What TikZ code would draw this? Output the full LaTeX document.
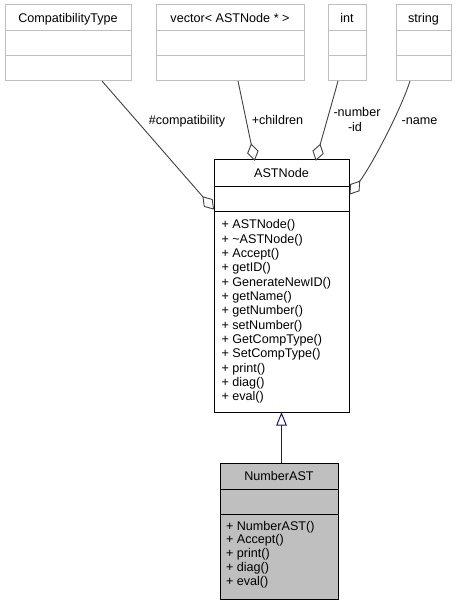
\documentclass[tikz,border=0pt]{standalone}
\usepackage{fontspec}
\setmainfont{Liberation Sans}
\usetikzlibrary{arrows.meta,calc}
\definecolor{boxgray}{HTML}{BFBFBF}
\definecolor{edgegray}{HTML}{404040}
\definecolor{inhblue}{HTML}{191970}
\begin{document}
\begin{tikzpicture}[x=1pt,y=-1pt,
  every node/.style={inner sep=0pt,outer sep=0pt,font=\fontsize{12.6}{14}\selectfont},
  lbox/.style={draw=boxgray,line width=1pt,anchor=north west},
  cbox/.style={draw=black,line width=1pt,anchor=north west},
  sepl/.style={line width=1pt},
  ttl/.style={anchor=base},
  mem/.style={anchor=base west},
  elabel/.style={anchor=base},
  assoc/.style={draw=edgegray,line width=0.9pt},
  dmd/.style={draw=edgegray,fill=white,line width=0.9pt,line join=miter},
  inh/.style={draw=inhblue,line width=1pt,-{Triangle[open,length=13.5pt,width=10.5pt]}}]
\useasboundingbox (0,0) rectangle (456,604);

% --- top boxes ---
\node[lbox,minimum width=126pt,minimum height=76pt] (ct) at (5,5) {};
\draw[sepl,boxgray] (5,31) -- (131,31) (5,56) -- (131,56);
\node[ttl] (ctt) at (68,22.5) {CompatibilityType};

\node[lbox,minimum width=148pt,minimum height=76pt] (vec) at (156,5) {};
\draw[sepl,boxgray] (156,31) -- (304,31) (156,56) -- (304,56);
\node[ttl] (vect) at (230,22.5) {vector< ASTNode * >};

\node[lbox,minimum width=38pt,minimum height=76pt] (int) at (328,5) {};
\draw[sepl,boxgray] (328,31) -- (366,31) (328,56) -- (366,56);
\node[ttl] (intt) at (347,22.5) {int};

\node[lbox,minimum width=55pt,minimum height=76pt] (str) at (396,5) {};
\draw[sepl,boxgray] (396,31) -- (451,31) (396,56) -- (451,56);
\node[ttl] (strt) at (423.5,22.5) {string};

% --- ASTNode ---
\node[cbox,minimum width=135pt,minimum height=252pt] (ast) at (214,160) {};
\draw[sepl] (214,186) -- (349,186) (214,211) -- (349,211);
\node[ttl] (astt) at (281.5,177.5) {ASTNode};
\foreach \t [count=\i from 0] in {+ ASTNode(),+ \char`\~ASTNode(),+ Accept(),+ getID(),+ GenerateNewID(),+ getName(),+ getNumber(),+ setNumber(),+ GetCompType(),+ SetCompType(),+ print(),+ diag(),+ eval()}
  \node[mem] (am\i) at (221.5,228.7+14.33*\i) {\t};

% --- NumberAST ---
\node[cbox,fill=boxgray,minimum width=118pt,minimum height=136pt] (num) at (220,463) {};
\draw[sepl] (220,489) -- (338,489) (220,514) -- (338,514);
\node[ttl] (numt) at (279,480) {NumberAST};
\foreach \t [count=\i from 0] in {+ NumberAST(),+ Accept(),+ print(),+ diag(),+ eval()}
  \node[mem] (nm\i) at (226,530+13.75*\i) {\t};

% --- association connectors (open diamond at ASTNode) ---
\coordinate (c1s) at (102,81);  \coordinate (c1e) at (213.5,209); \coordinate (p1) at (c1s);
\coordinate (c2s) at (238,81);  \coordinate (c2e) at (254.5,160); \coordinate (p2) at (c2s);
\coordinate (c3s) at (338,81);  \coordinate (c3e) at (316,160);   \coordinate (p3) at (331,104);
\coordinate (c4s) at (410,81);  \coordinate (c4e) at (350,194);   \coordinate (p4) at (370.6,167);
\foreach \k in {1,2,3,4}{
  \coordinate (b\k) at ($(c\k e)!16pt!(p\k)$);
  \coordinate (m\k) at ($(c\k e)!8pt!(p\k)$);
  \coordinate (l\k) at ($(m\k)!5.3pt!90:(c\k e)$);
  \coordinate (r\k) at ($(m\k)!5.3pt!-90:(c\k e)$);
}
\draw[assoc] (c1s) -- (b1);
\draw[assoc] (c2s) -- (b2);
\draw[assoc] (c3s) .. controls (335,92) .. (b3);
\draw[assoc] (c4s) .. controls (400,112) and (p4) .. (b4);
\foreach \k in {1,2,3,4}
  \draw[dmd] (c\k e) -- (l\k) -- (b\k) -- (r\k) -- cycle;

\node[elabel] (lab1) at (187,125) {\#compatibility};
\node[elabel] (lab2) at (277.5,125) {+children};
\node[elabel] (lab3) at (357,116.7) {-number};
\node[elabel] (lab4) at (355,131.5) {-id};
\node[elabel] (lab5) at (419.5,125) {-name};

% --- inheritance ---
\coordinate (inhs) at (281.5,463);
\coordinate (inhe) at (281.5,412);
\draw[inh] (inhs) -- (inhe);
\end{tikzpicture}
\end{document}
